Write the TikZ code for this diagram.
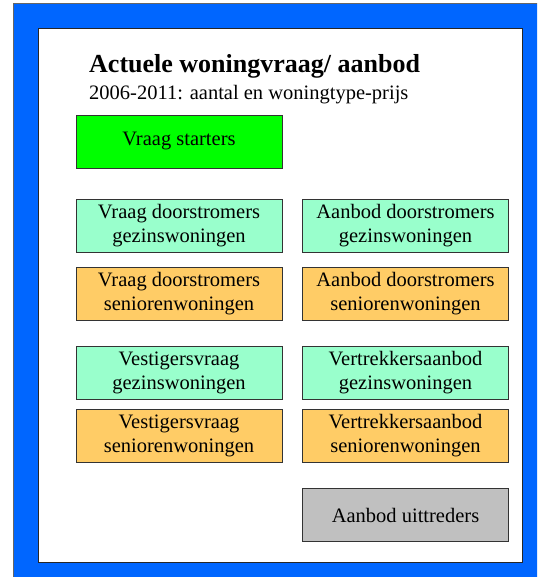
\documentclass[tikz,border=0pt]{standalone}
\usepackage{fontspec}
\setmainfont{Liberation Serif}
\usepackage{tikz}
\definecolor{frameblue}{RGB}{0,102,255}
\definecolor{mint}{RGB}{153,255,204}
\definecolor{oranje}{RGB}{255,204,102}
\definecolor{grijs}{RGB}{192,192,192}
\tikzset{
  box/.style={draw=black!80, line width=0.9pt, minimum width=206pt, minimum height=53pt,
    inner sep=0pt, align=center, font=\fontsize{20.5}{24}\selectfont},
  gezin/.style={box, fill=mint},
  senior/.style={box, fill=oranje}
}

\begin{document}
\begin{tikzpicture}[x=1pt,y=-1pt]
    \useasboundingbox (0,0) rectangle (537,577);
    \clip (0,0) rectangle (537,577);
    \draw[fill=frameblue, draw=black!60, line width=1pt] (13,4) rectangle (560,600);
    \draw[fill=white, draw=black!85, line width=1pt] (38,29) rectangle (522,562);
    \node[anchor=base west, inner sep=0pt, font=\fontsize{26}{30}\selectfont\bfseries] (title) at (89,73) {Actuele woningvraag/ aanbod};
    \node[anchor=base west, inner sep=0pt, font=\fontsize{20.5}{24}\selectfont] (sub) at (89,100) {2006-2011: aantal en woningtype-prijs};
    \node[box, fill=green] (VS) at (179,141.5) {Vraag starters};
    \node[gezin] (VDg) at (179,226) {Vraag doorstromers\\gezinswoningen};
    \node[gezin] (ADg) at (405.5,226) {Aanbod doorstromers\\gezinswoningen};
    \node[senior] (VDs) at (179,293.5) {Vraag doorstromers\\seniorenwoningen};
    \node[senior] (ADs) at (405.5,293.5) {Aanbod doorstromers\\seniorenwoningen};
    \node[gezin] (VVg) at (179,373) {Vestigersvraag\\gezinswoningen};
    \node[gezin] (VAg) at (405.5,373) {Vertrekkersaanbod\\gezinswoningen};
    \node[senior] (VVs) at (179,435.5) {Vestigersvraag\\seniorenwoningen};
    \node[senior] (VAs) at (405.5,435.5) {Vertrekkersaanbod\\seniorenwoningen};
    \node[box, fill=grijs] (AU) at (405.5,515) {Aanbod uittreders};
\end{tikzpicture}
\end{document}
